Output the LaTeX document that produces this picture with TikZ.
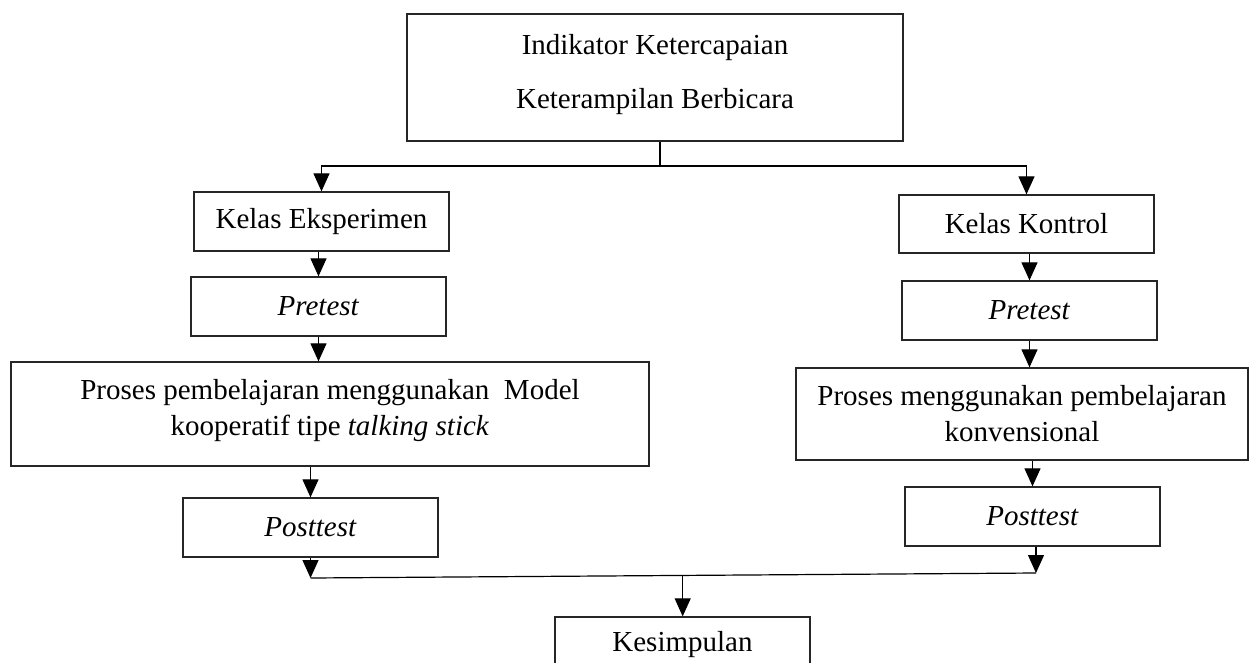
\documentclass[tikz,border=0pt]{standalone}
\usepackage{fontspec}
\setmainfont{Liberation Serif}
\usetikzlibrary{arrows.meta,calc}
\begin{document}
\begin{tikzpicture}[x=1pt,y=-1pt,
  box/.style={draw=black!85, line width=1.3pt, inner sep=0pt, align=center,
              font=\fontsize{29}{36}\selectfont},
  arr/.style={line width=1.2pt, -{Triangle[width=16pt,length=18pt]}},
  ln/.style={line width=1.2pt}]
\useasboundingbox (0,0) rectangle (1251,662);
\clip (0,0) rectangle (1251,662);

% boxes
\node[box, minimum width=496pt, minimum height=127pt,
      font=\fontsize{29}{54}\selectfont] (top) at (655,77.5)
      {Indikator Ketercapaian\\Keterampilan Berbicara\\[-42pt]\mbox{}};
\node[box, minimum width=255pt, minimum height=59pt] (ke) at (321.5,221.5) {Kelas Eksperimen};
\node[box, minimum width=255pt, minimum height=58pt] (kk) at (1026.5,224) {Kelas Kontrol};
\node[box, minimum width=255pt, minimum height=59pt] (prel) at (318.5,306.5) {\textit{Pretest}};
\node[box, minimum width=255pt, minimum height=59pt] (prer) at (1029.5,310.5) {\textit{Pretest}};
\node[box, minimum width=638pt, minimum height=104pt] (procl) at (330,414)
      {Proses pembelajaran menggunakan~ Model\\kooperatif tipe \textit{talking stick}\\[-22pt]\mbox{}};
\node[box, minimum width=452pt, minimum height=92pt] (procr) at (1022,414)
      {Proses menggunakan pembelajaran\\konvensional};
\node[box, minimum width=255pt, minimum height=59pt] (postl) at (310.5,527.5) {\textit{Posttest}};
\node[box, minimum width=255pt, minimum height=59pt] (postr) at (1032.5,516.5) {\textit{Posttest}};
\node[box, minimum width=255pt, minimum height=56pt] (kes) at (682.5,645) {Kesimpulan};

% top split
\coordinate (tj) at (660,166);
\draw[ln] (tj |- top.south) -- (tj);
\draw[arr] (tj) -| (ke.north);
\draw[arr] (tj) -| (kk.north);

% left column
\draw[arr] (ke.south -| prel.north) -- (prel.north);
\draw[arr] (prel.south) -- (prel.south |- procl.north);
\draw[arr] (procl.south -| postl.north) -- (postl.north);

% right column
\draw[arr] (kk.south -| prer.north) -- (prer.north);
\draw[arr] (prer.south) -- (prer.south |- procr.north);
\draw[arr] (procr.south -| postr.north) -- (postr.north);

% merge
\coordinate (bl) at (310.5,578);
\coordinate (br) at (1036,573);
\draw[arr] (postl.south) -- (bl);
\draw[arr] (postr.south -| br) -- (br);
\draw[ln] (bl) -- (br);
\coordinate (bj) at ($(bl)!0.513!(br)$);
\draw[arr] (bj) -- (bj |- kes.north);
\end{tikzpicture}
\end{document}
